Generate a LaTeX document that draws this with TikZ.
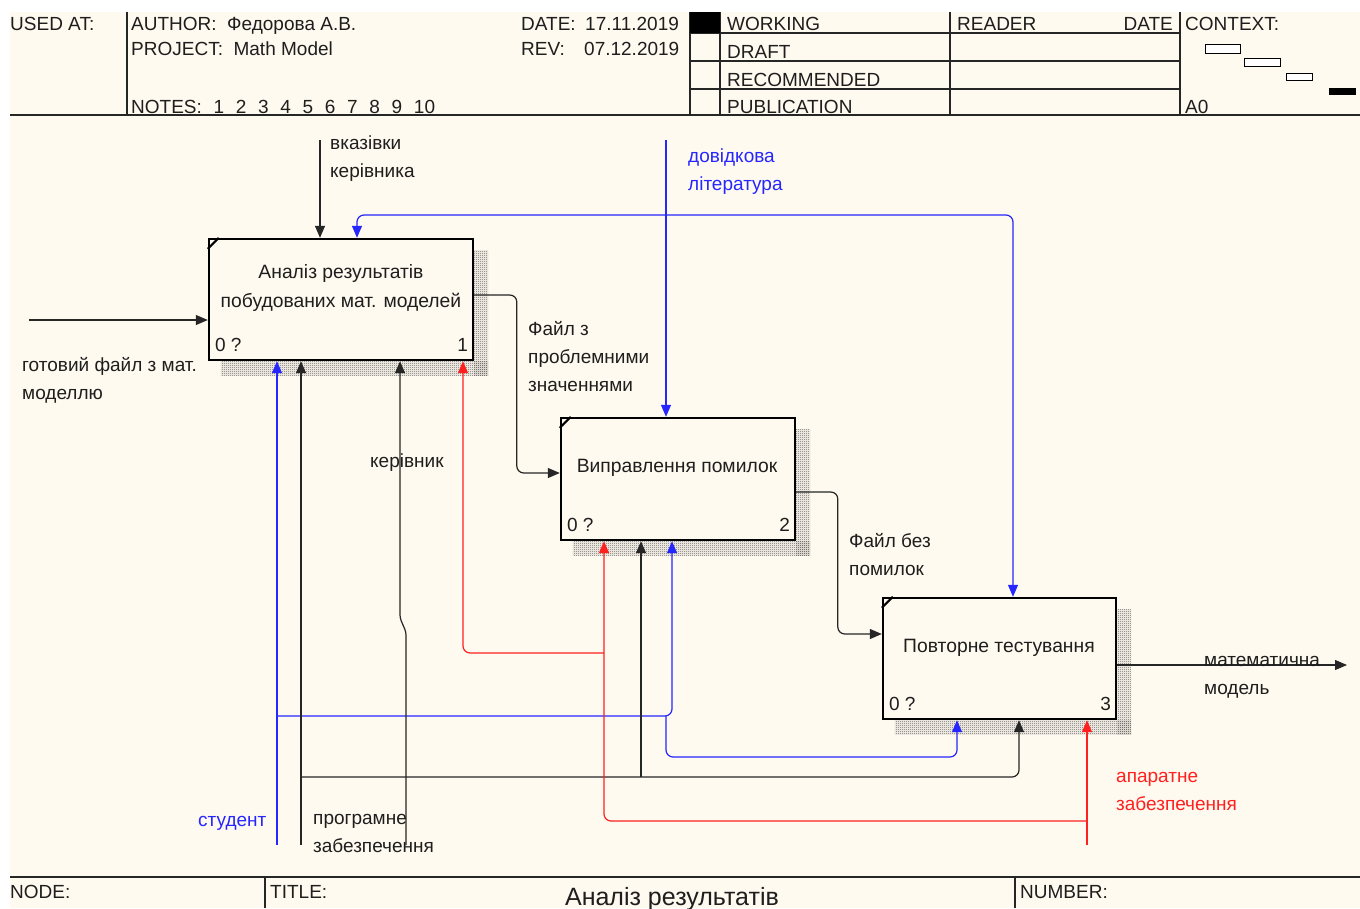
\documentclass[tikz,border=0pt]{standalone}
\usepackage{fontspec}
\setmainfont{Liberation Sans}
\usetikzlibrary{arrows.meta, backgrounds, patterns}
\definecolor{clrBg}   {HTML}{FFFAEF}
\definecolor{clrBlue} {HTML}{2626FF}
\definecolor{clrRed}  {HTML}{FF2020}
\definecolor{clrLine} {HTML}{262626}
\definecolor{clrText} {HTML}{1E1E1E}
\definecolor{clrShade}{HTML}{606060}
\newcommand{\nsp}{\hspace{11.7pt}}
% fine 50% checker used for the IDEF0 box shadows
\pgfdeclarepatternformonly{fine checker}{\pgfpointorigin}{\pgfpoint{2pt}{2pt}}{\pgfpoint{2pt}{2pt}}{%
  \pgfpathrectangle{\pgfpointorigin}{\pgfpoint{1pt}{1pt}}%
  \pgfpathrectangle{\pgfpoint{1pt}{1pt}}{\pgfpoint{1pt}{1pt}}%
  \pgfusepath{fill}}
\tikzset{
  func/.style = {
    rectangle, draw=black, line width=2.4pt,
    fill=clrBg, inner sep=0pt,
  },
  shd/.style  = {pattern=fine checker, pattern color=clrShade},
  frm/.style  = {line width=1.3pt, draw=clrLine},
  ctx/.style  = {line width=1pt, draw=black, fill=white},
  arr/.style  = {-{Triangle[length=12pt, width=10pt]}, line width=1.2pt,
                 draw=clrLine, rounded corners=7pt},
  arrB/.style = {arr, draw=clrBlue},
  arrR/.style = {arr, draw=clrRed},
  hdr/.style  = {font=\fontsize{19}{22}\selectfont, inner sep=0pt,
                 text=clrText, anchor=base west},
  % multi-line labels: anchor is the baseline of the LAST line
  lbl/.style  = {font=\fontsize{19}{28}\selectfont, inner sep=0pt,
                 text=clrText, align=left, anchor=base west},
  ftxt/.style = {font=\fontsize{19.3}{29}\selectfont, inner sep=0pt,
                 text=clrText, align=center, anchor=base},
  num/.style  = {font=\fontsize{19}{22}\selectfont, inner sep=0pt,
                 text=clrText},
}

\begin{document}
\begin{tikzpicture}[x=1pt, y=-1pt]

\useasboundingbox (0,0) rectangle (1360,908);
\begin{scope}[on background layer]
  \fill[clrBg] (10,12) rectangle (1360,908);
\end{scope}

% ══════════════════════════════════════════════════════════════════════════
%  HEADER — frame and fields
% ══════════════════════════════════════════════════════════════════════════

\draw[frm] (10,115) -- (1360,115);
\foreach \x in {127, 690, 720, 950, 1180}
  \draw[frm] (\x,12) -- (\x,115);
\foreach \y in {33, 61, 89}
  \draw[frm] (690,\y) -- (1180,\y);
\fill[black] (690,12) rectangle (720,33);

\node[hdr] (usedat)  at (10,  30) {USED AT:};
\node[hdr] (author)  at (131, 30) {AUTHOR:~~Федорова А.В.};
\node[hdr] (project) at (131, 55) {PROJECT:~~Math Model};
\node[hdr] (notes)   at (131,113) {NOTES:\nsp 1\nsp 2\nsp 3\nsp 4\nsp 5\nsp 6\nsp 7\nsp 8\nsp 9\nsp 10};
\node[hdr] (date)    at (521, 30) {\makebox[64pt][l]{DATE:}17.11.2019};
\node[hdr] (rev)     at (521, 55) {\makebox[63pt][l]{REV:}07.12.2019};

\node[hdr] (working) at (727, 30) {WORKING};
\node[hdr] (draft)   at (727, 58) {DRAFT};
\node[hdr] (recom)   at (727, 86) {RECOMMENDED};
\node[hdr] (publ)    at (727,113) {PUBLICATION};
\node[hdr] (reader)  at (957, 30) {READER};
\node[hdr, anchor=base east] (rdate) at (1173, 30) {DATE};

\node[hdr] (context) at (1185, 30) {CONTEXT:};
\node[hdr] (ctxnode) at (1185,113) {A0};
\draw[ctx] (1205,44) rectangle (1240,53);
\draw[ctx] (1244,58) rectangle (1280,66);
\draw[ctx] (1286,73) rectangle (1312,80);
\fill[black] (1329,88) rectangle (1356,95);

% ══════════════════════════════════════════════════════════════════════════
%  FOOTER
% ══════════════════════════════════════════════════════════════════════════

\draw[frm] (10,877) -- (1360,877);
\draw[frm] (265,877) -- (265,908);
\draw[frm] (1015,877) -- (1015,908);
\node[hdr] (nodefld)  at (10,  898) {NODE:};
\node[hdr] (titlefld) at (270, 898) {TITLE:};
\node[hdr, font=\fontsize{25}{28}\selectfont, anchor=base]
  (title) at (672, 905) {Аналіз результатів};
\node[hdr] (numfld)   at (1020, 898) {NUMBER:};

% ══════════════════════════════════════════════════════════════════════════
%  FUNCTION BOXES
% ══════════════════════════════════════════════════════════════════════════

\node[func, minimum width=264, minimum height=121] (a1) at (341,  299.5) {};
\node[func, minimum width=234, minimum height=122] (a2) at (678,  479  ) {};
\node[func, minimum width=233, minimum height=121] (a3) at (999.5,658.5) {};

% ── hatched shadows ─────────────────────────────────────────────────────
\begin{scope}[on background layer]
  \foreach \b in {a1, a2, a3} {
    \fill[shd] ([yshift=-13]\b.north east) rectangle ([xshift=14,yshift=-14]\b.south east);
    \fill[shd] ([xshift=13]\b.south west)  rectangle ([xshift=14,yshift=-14]\b.south east);
  }
\end{scope}

% corner ticks
\foreach \b in {a1, a2, a3}
  \draw[line width=2pt] ([yshift=-11]\b.north west) -- ([xshift=11]\b.north west);

\node[ftxt] (a1t) at (341, 307) {Аналіз результатів\\побудованих мат. моделей};
\node[ftxt] (a2t) at (677, 472) {Виправлення помилок};
\node[ftxt] (a3t) at (999, 652) {Повторне тестування};

\node[num, anchor=base west] (a1z) at ([xshift=7, yshift=9.5]a1.south west) {0 ?};
\node[num, anchor=base east] (a1n) at ([xshift=-6,yshift=9.5]a1.south east) {1};
\node[num, anchor=base west] (a2z) at ([xshift=7, yshift=9.5]a2.south west) {0 ?};
\node[num, anchor=base east] (a2n) at ([xshift=-6,yshift=9.5]a2.south east) {2};
\node[num, anchor=base west] (a3z) at ([xshift=7, yshift=9.5]a3.south west) {0 ?};
\node[num, anchor=base east] (a3n) at ([xshift=-6,yshift=9.5]a3.south east) {3};

% ══════════════════════════════════════════════════════════════════════════
%  Arrows — inputs, controls, outputs
% ══════════════════════════════════════════════════════════════════════════

\coordinate (inS)  at (29, 320);
\coordinate (ctlS) at (320,140);
\coordinate (litS) at (666,140);
\coordinate (litJ) at (666,215);
\coordinate (litL) at (357,215);
\coordinate (litR) at (1013,215);
\coordinate (outE) at (1347,665);

\draw[arr]  (inS)  -- (inS -| a1.west);
\draw[arr]  (ctlS) -- (ctlS |- a1.north);
\draw[arrB] (litS) -- (litS |- a2.north);
\draw[arrB] (litJ) -- (litL) -- (litL |- a1.north);
\draw[arrB] (litJ) -- (litR) -- (litR |- a3.north);

\draw[arr] ([yshift=4.5]a1.east) -| ([xshift=-43,yshift=6]a2.west) -- ([yshift=6]a2.west);
\draw[arr] ([yshift=-13]a2.east) -| ([xshift=-44,yshift=24.5]a3.west) -- ([yshift=24.5]a3.west);
\draw[arr] (outE -| a3.east) -- (outE);

% ══════════════════════════════════════════════════════════════════════════
%  Arrows — mechanisms
% ══════════════════════════════════════════════════════════════════════════

% студент
\coordinate (studS) at (277,845);
\coordinate (studJ) at (277,716);
\coordinate (studK) at (666,716);
\coordinate (stud2) at (672,716);
\coordinate (stud3) at (957,757);
\draw[arrB] (studS) -- (studS |- a1.south);
\draw[arrB] (studJ) -- (stud2) -- (stud2 |- a2.south);
\draw[arrB] (studK) |- (stud3) -- (stud3 |- a3.south);

% програмне забезпечення
\coordinate (softS) at (301,845);
\coordinate (softJ) at (301,777);
\coordinate (soft2) at (641,777);
\coordinate (soft3) at (1019,777);
\draw[arr] (softS) -- (softS |- a1.south);
\draw[arr] (softJ) -- (soft3) -- (soft3 |- a3.south);
\draw[arr] (soft2) -- (soft2 |- a2.south);

% керівник
\coordinate (kerS) at (406,845);
\coordinate (kerK) at (406,632);
\coordinate (kerJ) at (400,618);
\draw[arr, rounded corners=3pt] (kerS) -- (kerK) -- (kerJ) -- (kerJ |- a1.south);

% апаратне забезпечення
\coordinate (hwS) at (1087,845);
\coordinate (hwJ) at (1087,821);
\coordinate (hw2) at (604,821);
\coordinate (hwK) at (604,653);
\coordinate (hw1) at (463,653);
\draw[arrR] (hwS) -- (hwS |- a3.south);
\draw[arrR] (hwJ) -- (hw2) -- (hw2 |- a2.south);
\draw[arrR] (hwK) -- (hw1) -- (hw1 |- a1.south);

% ══════════════════════════════════════════════════════════════════════════
%  Arrow labels
% ══════════════════════════════════════════════════════════════════════════

\node[lbl] (lIn)   at (22,  399) {готовий файл з мат.\\моделлю};
\node[lbl] (lCtl)  at (330, 177) {вказівки\\керівника};
\node[lbl, text=clrBlue] (lLit) at (688, 190) {довідкова\\література};
\node[lbl] (lO1)   at (528, 391) {Файл з\\проблемними\\значеннями};
\node[lbl] (lO2)   at (849, 575) {Файл без\\помилок};
\node[lbl] (lOut)  at (1204,694) {математична\\модель};
\node[lbl] (lKer)  at (370, 467) {керівник};
\node[lbl, text=clrBlue] (lStud) at (198, 826) {студент};
\node[lbl] (lSoft) at (313, 852) {програмне\\забезпечення};
\node[lbl, text=clrRed]  (lHw)   at (1116,810) {апаратне\\забезпечення};

\end{tikzpicture}
\end{document}
